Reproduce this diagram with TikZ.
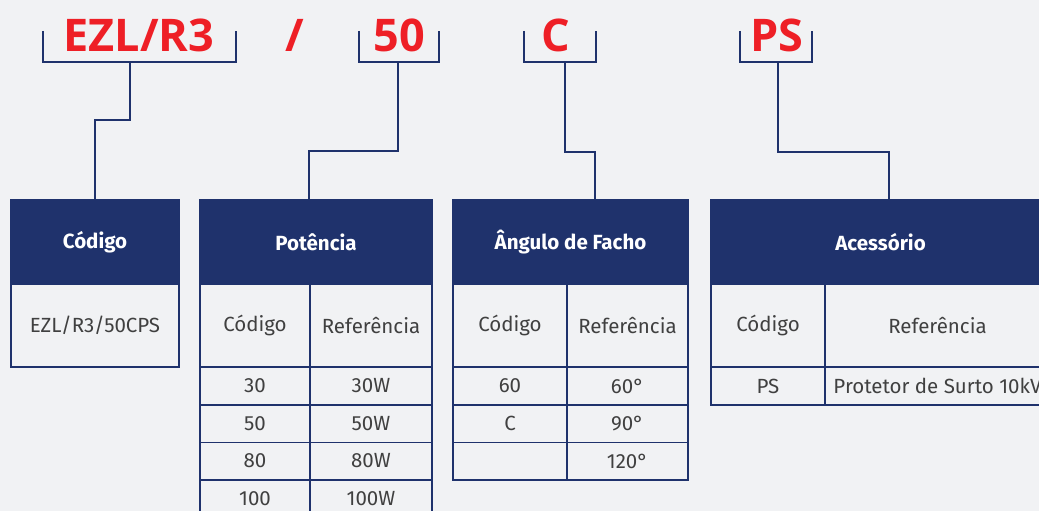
\documentclass[tikz,border=0pt]{standalone}
\usepackage{fontspec}
\setmainfont{Fira Sans}
\newfontfamily\codefont{Open Sans}
\definecolor{navy}{HTML}{1F326C}
\definecolor{codered}{HTML}{EE1F26}
\definecolor{paper}{HTML}{F1F2F4}
\definecolor{ink}{HTML}{404040}

\begin{document}
\begin{tikzpicture}[
    x=1pt,
    y=-1pt,
    code/.style={
      font=\codefont\bfseries\fontsize{45}{45}\selectfont,
      text=codered,
      anchor=base
    },
    bracket/.style={
      draw=navy,
      line width=1.6pt
    },
    wire/.style={
      draw=navy,
      line width=1.6pt
    },
    head/.style={
      draw=navy,
      fill=navy,
      line width=1.5pt,
      text=white,
      font=\bfseries\fontsize{20.5}{20.5}\selectfont,
      minimum height=84pt,
      inner sep=0pt
    },
    cell/.style={
      draw=navy,
      line width=1.5pt,
      text=ink,
      font=\fontsize{20.5}{20.5}\selectfont,
      inner sep=0pt
    }
  ]
    \useasboundingbox (0,0) rectangle (1039,511);
    \clip (0,0) rectangle (1039,511);
    \fill[paper] (0,0) rectangle (1039,511);

    \node[code] (ezl) at (139,52) {EZL/R3};
    \node[code] (sl) at (295,52) {/};
    \node[code] (pw) at (399,52) {50};
    \node[code] (ang) at (556,52) {C};
    \node[code] (acc) at (777,52) {PS};

    \foreach \l/\r/\m [count=\i] in {43/236/130,359/439/398,524/596/565,740/812/778} {
      \draw[bracket] (\l,31) -- (\l,62) -- (\r,62) -- (\r,31);
      \coordinate (b\i) at (\m,62);
    }

    % codigo
    \node[head,minimum width=168pt] (t1) at (95,242) {Código};
    \node[cell,minimum width=168pt,minimum height=83pt] (t1a) at (95,325.5) {EZL/R3/50CPS};

    % potencia
    \node[head,minimum width=232pt] (t2) at (316,242) {Potência};
    \node[cell,minimum width=110pt,minimum height=83pt] (t2a) at (255,325.5) {Código};
    \node[cell,minimum width=122pt,minimum height=83pt] (t2b) at (371,325.5) {Referência};
    \foreach \a/\b [count=\i] in {30/30W,50/50W,80/80W,100/100W} {
      \node[cell,minimum width=110pt,minimum height=37.5pt] (p\i a) at (255,348.5+37.5*\i) {\a};
      \node[cell,minimum width=122pt,minimum height=37.5pt] (p\i b) at (371,348.5+37.5*\i) {\b};
    }

    % angulo
    \node[head,minimum width=235pt] (t3) at (570.5,242) {Ângulo de Facho};
    \node[cell,minimum width=114pt,minimum height=83pt] (t3a) at (510,325.5) {Código};
    \node[cell,minimum width=121pt,minimum height=83pt] (t3b) at (627.5,325.5) {Referência};
    \foreach \a/\b [count=\i] in {60/60°,C/90°,{}/120°} {
      \node[cell,minimum width=114pt,minimum height=37.5pt] (f\i a) at (510,348.5+37.5*\i) {\a};
      \node[cell,minimum width=121pt,minimum height=37.5pt] (f\i b) at (627.5,348.5+37.5*\i) {\b};
    }

    % acessorio
    \node[head,minimum width=339pt] (t4) at (880.5,242) {Acessório};
    \node[cell,minimum width=114pt,minimum height=83pt] (t4a) at (768,325.5) {Código};
    \node[cell,minimum width=225pt,minimum height=83pt] (t4b) at (937.5,325.5) {Referência};
    \node[cell,minimum width=114pt,minimum height=37.5pt] (s1a) at (768,386) {PS};
    \node[cell,minimum width=225pt,minimum height=37.5pt] (s1b) at (937.5,386) {Protetor de Surto 10kV};

    \draw[wire] (b1) -- ++(0,58) -| (t1.north);
    \draw[wire] (b2) -- ++(0,89) -| ([xshift=110pt]t2.north west);
    \draw[wire] (b3) -- ++(0,90) -| ([xshift=143pt]t3.north west);
    \draw[wire] (b4) -- ++(0,90) -| ([xshift=179pt]t4.north west);
  \end{tikzpicture}
\end{document}
